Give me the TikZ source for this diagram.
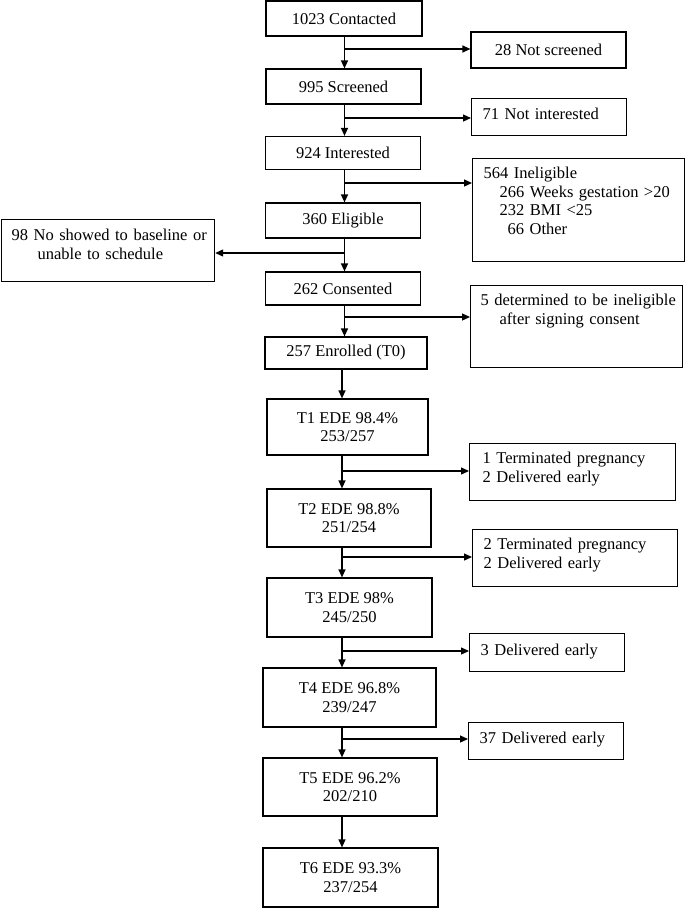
\documentclass[tikz,border=0pt]{standalone}
\usepackage{fontspec}
\setmainfont{Liberation Serif}
\usetikzlibrary{arrows.meta}
\begin{document}
\begin{tikzpicture}[x=1pt, y=-1pt, line width=1.2pt, >={Triangle[length=8pt,width=7pt]},
  font=\fontsize{16.5}{18.6}\selectfont,
  box/.style={draw, align=center, inner sep=0pt},
  side/.style={draw, anchor=north west, align=left, inner ysep=8pt}]
\useasboundingbox (0,0) rectangle (685,908);
% main column
\node[box, minimum width=156pt, minimum height=35pt] (contact) at (344,18.5) {1023 Contacted};
\node[box, minimum width=155pt, minimum height=35pt] (screen) at (343.5,86.5) {995 Screened};
\node[box, minimum width=155pt, minimum height=33pt] (interest) at (343,153) {924 Interested};
\node[box, minimum width=155pt, minimum height=35pt] (elig) at (343,220.5) {360 Eligible};
\node[box, minimum width=155pt, minimum height=33pt] (consent) at (343,288.5) {262 Consented};
\node[box, minimum width=162pt, minimum height=32pt] (enrol) at (346,353) {257 Enrolled (T0)};
\node[box, minimum width=161pt, minimum height=56pt] (t1) at (347.5,427) {T1 EDE 98.4\%\\253/257};
\node[box, minimum width=164pt, minimum height=58pt] (t2) at (349,518) {T2 EDE 98.8\%\\251/254};
\node[box, minimum width=165pt, minimum height=59pt] (t3) at (349.5,607.5) {T3 EDE 98\%\\245/250};
\node[box, minimum width=173pt, minimum height=59pt] (t4) at (349.5,697.5) {T4 EDE 96.8\%\\239/247};
\node[box, minimum width=174pt, minimum height=58pt] (t5) at (350,787) {T5 EDE 96.2\%\\202/210};
\node[box, minimum width=175pt, minimum height=59pt] (t6) at (350.5,877.5) {T6 EDE 93.3\%\\237/254};
% side boxes
\node[box, minimum width=155pt, minimum height=36pt] (notscr) at (548.5,50) {28 Not screened};
\node[side, inner xsep=11pt, text width=133pt, text height=13pt, text depth=8pt] (notint) at (471,98) {71 Not interested};
\node[side, inner xsep=11pt, text width=190pt, text height=12pt, text depth=75pt] (inel) at (472,158)
  {564 Ineligible\\\hspace*{16pt}266 Weeks gestation >20\\\hspace*{16pt}232 BMI <25\\\hspace*{24pt}66 Other};
\node[side, inner xsep=3pt, text width=207pt, text height=13pt, text depth=33pt] (noshow) at (1,219)
  {\hspace*{7pt}98 No showed to baseline or\\\hspace*{33pt}unable to schedule};
\node[side, inner xsep=3pt, text width=206pt, text height=12pt, text depth=54pt] (inel5) at (470,285)
  {\hspace*{7pt}5 determined to be ineligible\\\hspace*{26pt}after signing consent};
\node[side, inner xsep=13pt, text width=180pt, text height=12pt, text depth=29pt] (term1) at (469,443)
  {1 Terminated pregnancy\\2 Delivered early};
\node[side, inner xsep=11pt, text width=183pt, text height=12pt, text depth=29pt] (term2) at (472,529)
  {2 Terminated pregnancy\\2 Delivered early};
\node[side, inner xsep=11pt, text width=133pt, text height=14pt, text depth=8pt] (del3) at (469,633) {3 Delivered early};
\node[side, inner xsep=11pt, text width=133pt, text height=13pt, text depth=8pt] (del37) at (468,722) {37 Delivered early};
% spines and branch points
\path (344.5,0) coordinate (upx) (342,0) coordinate (lowx)
  (344.5,49) coordinate (b1) (344.5,118) coordinate (b2) (344,183) coordinate (b3)
  (344,253) coordinate (b4) (344,317) coordinate (b5) (342,471) coordinate (b6)
  (342,557) coordinate (b7) (342,651) coordinate (b8) (341,739) coordinate (b9);
\foreach \a/\b in {contact/screen,screen/interest,interest/elig,elig/consent,consent/enrol}
  \draw[->] (\a.south -| upx) -- (\b.north -| upx);
\foreach \a/\b in {enrol/t1,t1/t2,t2/t3,t3/t4,t4/t5,t5/t6}
  \draw[->] (\a.south -| lowx) -- (\b.north -| lowx);
\foreach \p/\q in {b1/notscr,b2/notint,b3/inel,b5/inel5,b6/term1,b7/term2,b8/del3,b9/del37}
  \draw[->] (\p) -- (\p -| \q.west);
\draw[->] (b4) -- (b4 -| noshow.east);
\end{tikzpicture}
\end{document}
